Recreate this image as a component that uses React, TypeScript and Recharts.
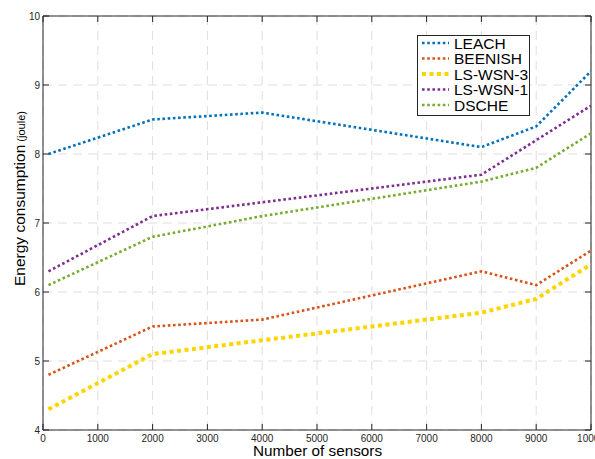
import React from "react";
import { LineChart, Line, XAxis, YAxis, CartesianGrid, ReferenceLine } from "recharts";

const sensors = [100, 2000, 4000, 8000, 9000, 10000];
const leach = [8.0, 8.5, 8.6, 8.1, 8.4, 9.2];
const beenish = [4.8, 5.5, 5.6, 6.3, 6.1, 6.6];
const lsWsn3 = [4.3, 5.1, 5.3, 5.7, 5.9, 6.4];
const lsWsn1 = [6.3, 7.1, 7.3, 7.7, 8.2, 8.7];
const dsche = [6.1, 6.8, 7.1, 7.6, 7.8, 8.3];

const xTicks = [0, 1000, 2000, 3000, 4000, 5000, 6000, 7000, 8000, 9000, 10000];
const yTicks = [4, 5, 6, 7, 8, 9, 10];

const series = [
  { key: "leach", name: "LEACH", values: leach, color: "#0072BD", width: 2.6, dash: "2.6 2.6" },
  { key: "beenish", name: "BEENISH", values: beenish, color: "#D95319", width: 2.6, dash: "2.6 2.6" },
  { key: "lsWsn3", name: "LS-WSN-3", values: lsWsn3, color: "#FFD500", width: 4, dash: "4 3.5" },
  { key: "lsWsn1", name: "LS-WSN-1", values: lsWsn1, color: "#7E2F8E", width: 2.6, dash: "2.6 2.6" },
  { key: "dsche", name: "DSCHE", values: dsche, color: "#77AC30", width: 2.6, dash: "2.6 2.6" },
];

const data = sensors.map((x, i) => {
  const row: any = { x };
  series.forEach((s) => (row[s.key] = s.values[i]));
  return row;
});

const FONT = "'Liberation Sans', Arial, Helvetica, sans-serif";
const AX = "#262626";
const TICK_COLOR = "#262626";

const CHART_W = 595;
const CHART_H = 459;
const MARGIN = { top: 16, right: 4, bottom: 0, left: 0 };
const PLOT_TOP = MARGIN.top;
const PLOT_RIGHT = CHART_W - MARGIN.right;
const X_TICK_MARGIN = 5;
const Y_TICK_MARGIN = 3;
const TICK_LEN = 6;

const XTick = (props: any) => {
  const { x, y, payload } = props;
  const axisY = y - X_TICK_MARGIN;
  return (
    <g>
      <line x1={x} x2={x} y1={axisY} y2={axisY - TICK_LEN} stroke={AX} strokeWidth={1} />
      <line x1={x} x2={x} y1={PLOT_TOP} y2={PLOT_TOP + TICK_LEN} stroke={AX} strokeWidth={1} />
      <text x={x} y={y} dy="0.71em" textAnchor="middle" fontSize={10} fill={TICK_COLOR} fontFamily={FONT}>
        {payload.value}
      </text>
    </g>
  );
};

const YTick = (props: any) => {
  const { x, y, payload } = props;
  const axisX = x + Y_TICK_MARGIN;
  return (
    <g>
      <line x1={axisX} x2={axisX + TICK_LEN} y1={y} y2={y} stroke={AX} strokeWidth={1} />
      <line x1={PLOT_RIGHT} x2={PLOT_RIGHT - TICK_LEN} y1={y} y2={y} stroke={AX} strokeWidth={1} />
      <text x={x} y={y} dy="0.355em" textAnchor="end" fontSize={10} fill={TICK_COLOR} fontFamily={FONT}>
        {payload.value}
      </text>
    </g>
  );
};

const LegendBox = () => {
  const left = 417;
  const top = 35;
  const w = 113;
  const h = 81;
  const rowH = 15.5;
  return (
    <svg
      width={w + 2}
      height={h + 2}
      style={{ position: "absolute", left: left - 1, top: top - 1 }}
    >
      <rect x={1.5} y={1.5} width={w - 1} height={h - 1} fill="#fff" stroke={AX} strokeWidth={1} />
      {series.map((s, i) => {
        const cy = 1 + 8 + i * rowH;
        return (
          <g key={s.key}>
            <line x1={6} x2={33} y1={cy} y2={cy} stroke={s.color} strokeWidth={s.width} strokeDasharray={s.dash} />
            <text x={38} y={cy + 5.5} fontSize={15.5} fill="#000" fontFamily={FONT}>
              {s.name}
            </text>
          </g>
        );
      })}
    </svg>
  );
};

export default function App() {
  return (
    <div style={{ position: "absolute", left: 0, top: 0, width: CHART_W, height: CHART_H, background: "#fff" }}>
      <LineChart width={CHART_W} height={CHART_H} data={data} margin={MARGIN} style={{ fontFamily: FONT }}>
        <CartesianGrid stroke="#dedede" strokeDasharray="9 6" strokeWidth={1} />
        <XAxis
          dataKey="x"
          type="number"
          domain={[0, 10000]}
          ticks={xTicks}
          height={29}
          tickLine={false}
          tickSize={0}
          tickMargin={X_TICK_MARGIN}
          axisLine={{ stroke: AX, strokeWidth: 1 }}
          tick={XTick}
          interval={0}
          allowDataOverflow
        />
        <YAxis
          type="number"
          domain={[4, 10]}
          ticks={yTicks}
          width={43}
          tickLine={false}
          tickSize={0}
          tickMargin={Y_TICK_MARGIN}
          axisLine={{ stroke: AX, strokeWidth: 1 }}
          tick={YTick}
          interval={0}
        />
        <ReferenceLine y={10} stroke={AX} strokeWidth={1} ifOverflow="visible" />
        <ReferenceLine x={10000} stroke={AX} strokeWidth={1} ifOverflow="visible" />
        {series.map((s) => (
          <Line
            key={s.key}
            dataKey={s.key}
            name={s.name}
            type="linear"
            stroke={s.color}
            strokeWidth={s.width}
            strokeDasharray={s.dash}
            dot={false}
            activeDot={false}
            isAnimationActive={false}
          />
        ))}
        <text
          x={25}
          y={286}
          transform="rotate(-90 25 286)"
          textAnchor="start"
          fill="#000"
          fontFamily={FONT}
        >
          <tspan fontSize={15.5}>Energy consumption</tspan>
          <tspan fontSize={11}> (joule)</tspan>
        </text>
        <text x={317.5} y={456} textAnchor="middle" fontSize={15.3} fill="#000" fontFamily={FONT}>
          Number of sensors
        </text>
      </LineChart>
      <LegendBox />
    </div>
  );
}
